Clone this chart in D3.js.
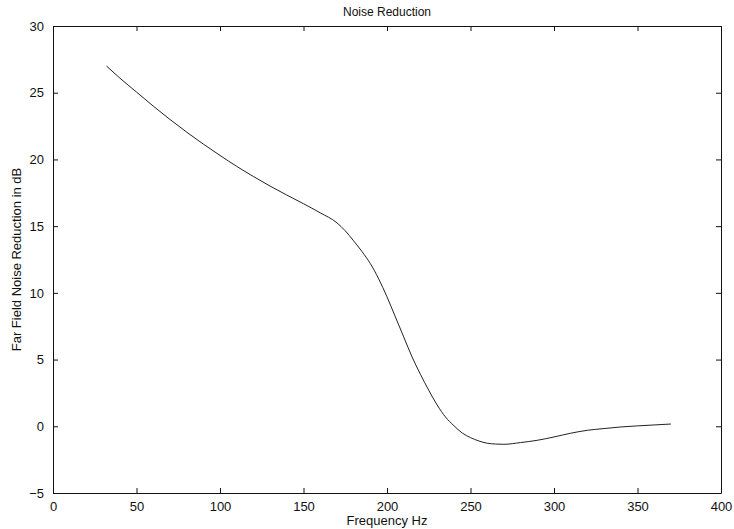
<!DOCTYPE html>
<html>
<head>
<meta charset="utf-8">
<script src="https://cdn.jsdelivr.net/npm/d3@7"></script>
<style>
  body { margin: 0; background: #fff; }
  svg text { font-family: "Liberation Sans", Arial, sans-serif; fill: #111; }
</style>
</head>
<body>
<svg id="chart" width="734" height="529"></svg>
<script>
// data
var freq = [32, 40, 50, 60, 70, 80, 90, 100, 110, 120, 130, 140, 150, 160, 170, 175,
            180, 185, 190, 195, 200, 205, 210, 215, 220, 225, 230, 235, 240, 245, 250,
            255, 260, 265, 270, 280, 290, 300, 310, 320, 330, 340, 350, 360, 370];
var reduction = [27.0, 26.1, 25.05, 24.0, 23.0, 22.05, 21.15, 20.3, 19.48, 18.72, 18.0, 17.33, 16.68, 16.0, 15.25, 14.65,
                 13.9, 13.1, 12.2, 11.05, 9.7, 8.2, 6.7, 5.2, 3.9, 2.7, 1.6, 0.7, 0.05, -0.5, -0.85,
                 -1.1, -1.27, -1.33, -1.35, -1.22, -1.05, -0.8, -0.52, -0.3, -0.17, -0.05, 0.03, 0.1, 0.17];
var xTicks = [0, 50, 100, 150, 200, 250, 300, 350, 400];
var yTicks = [-5, 0, 5, 10, 15, 20, 25, 30];

var margin = {top: 26, right: 13, bottom: 36, left: 53},
    width = 734 - margin.left - margin.right,
    height = 529 - margin.top - margin.bottom;

var svg = d3.select("#chart")
  .append("g")
  .attr("transform", "translate(" + margin.left + "," + margin.top + ")");

var x = d3.scaleLinear().domain([0, 400]).range([0, width]);
var y = d3.scaleLinear().domain([-5, 30]).range([height, 0]);

// axes on all four sides, ticks pointing inward
function style(g) {
  g.selectAll(".domain").attr("stroke", "#111").attr("stroke-width", 1);
  g.selectAll(".tick line").attr("stroke", "#111");
  g.selectAll("text").style("font-size", "13px");
}

svg.append("g")
  .attr("transform", "translate(0," + height + ")")
  .call(d3.axisBottom(x).tickValues(xTicks).tickSizeInner(-5).tickSizeOuter(0).tickPadding(9))
  .call(style);

svg.append("g")
  .call(d3.axisTop(x).tickValues(xTicks).tickSizeInner(-5).tickSizeOuter(0).tickFormat(""))
  .call(style);

svg.append("g")
  .call(d3.axisLeft(y).tickValues(yTicks).tickSizeInner(-5).tickSizeOuter(0).tickPadding(9))
  .call(style);

svg.append("g")
  .attr("transform", "translate(" + width + ",0)")
  .call(d3.axisRight(y).tickValues(yTicks).tickSizeInner(-5).tickSizeOuter(0).tickFormat(""))
  .call(style);

// curve
var line = d3.line()
  .x(function(d, i) { return x(freq[i]); })
  .y(function(d) { return y(d); })
  .curve(d3.curveMonotoneX);

svg.append("path")
  .datum(reduction)
  .attr("fill", "none")
  .attr("stroke", "#222")
  .attr("stroke-width", 1)
  .attr("d", line);

// labels
svg.append("text")
  .attr("x", width / 2)
  .attr("y", -10)
  .attr("text-anchor", "middle")
  .style("font-size", "12px")
  .text("Noise Reduction");

svg.append("text")
  .attr("x", width / 2)
  .attr("y", height + 32)
  .attr("text-anchor", "middle")
  .style("font-size", "13px")
  .text("Frequency Hz");

svg.append("text")
  .attr("transform", "rotate(-90)")
  .attr("x", -height / 2)
  .attr("y", -32)
  .attr("text-anchor", "middle")
  .style("font-size", "13px")
  .text("Far Field Noise Reduction in dB");
</script>
</body>
</html>
